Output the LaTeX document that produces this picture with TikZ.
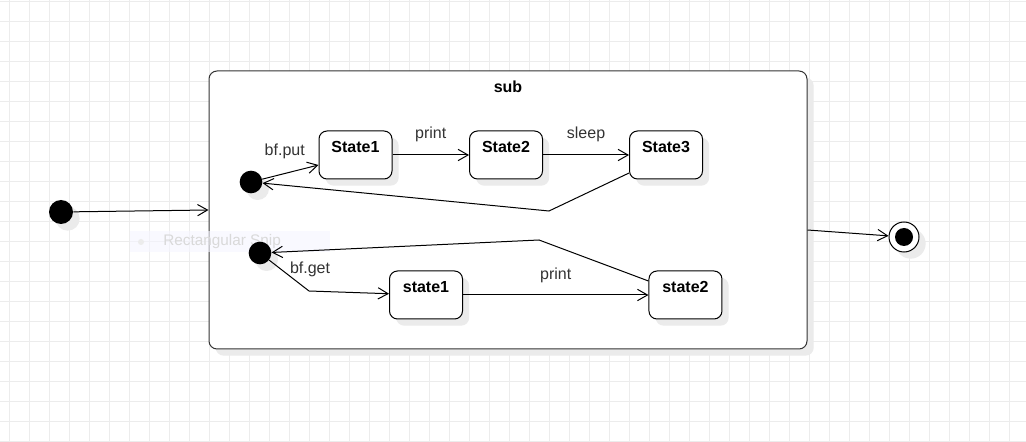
\documentclass[tikz,border=0pt]{standalone}
\usepackage{fontspec}
\setmainfont{Liberation Sans}
\usetikzlibrary{shapes, arrows.meta, positioning, shadows}
\tikzstyle{every node}=[font=\fontsize{12}{14}\selectfont]
\tikzstyle{gridline}=[draw=gray!15,line width=.6pt]
\tikzstyle{shade}=[drop shadow={shadow xshift=5pt,shadow yshift=-5pt,fill=black!8,opacity=1}]
\tikzstyle{container}=[draw=black!80,rectangle,rounded corners=6pt,fill=white,
  line width=.75pt,minimum width=448.5pt,inner sep=0pt,text height=16.3pt,
  text depth=192.2pt,font=\fontsize{12}{14}\selectfont\bfseries,shade]
\tikzstyle{state}=[draw,rectangle,rounded corners=6pt,fill=white,line width=.75pt,
  minimum width=54.75pt,inner sep=0pt,text height=16.3pt,text depth=19.7pt,
  font=\fontsize{12}{14}\selectfont\bfseries,shade]
\tikzstyle{initial}=[circle,fill=black,minimum size=18pt,inner sep=0pt,shade]
\tikzstyle{final}=[circle,draw,fill=white,line width=.75pt,minimum size=22.5pt,
  inner sep=0pt,shade,path picture={\fill[black] (path picture bounding box.center) circle (6.75pt);}]
\tikzstyle{trans}=[draw,line width=.75pt,-{Straight Barb[length=7.5pt,width=8.5pt]}]
\tikzstyle{lbl}=[text=black!80]

\begin{document}
\begin{tikzpicture}[x=.75pt,y=-.75pt]
  \useasboundingbox (0,0) rectangle (1026,442);
  \fill[white] (0,0) rectangle (1026,442);
  % background grid
  \foreach \gx in {9,29,...,1009} \draw[gridline] (\gx,0) -- (\gx,442);
  \foreach \gy in {1,21,...,441} \draw[gridline] (0,\gy) -- (1026,\gy);

  \node[container] (sub) at (508,210) {sub};
  \node[state] (State1) at (355.5,155) {State1};
  \node[state, right of=State1, node distance=112.9pt] (State2) {State2};
  \node[state, right of=State2, node distance=120pt] (State3) {State3};
  \node[state] (state1) at (426,295) {state1};
  \node[state, right of=state1, node distance=194.6pt] (state2) {state2};

  % faint snipping tooltip
  \node[rectangle,fill=blue!4,fill opacity=.6,minimum width=150pt,minimum height=15.75pt,
    inner sep=0pt] (snip) at (230,241.5) {};
  \fill[gray!15] (141,242) circle (3);
  \node[text=gray!30,font=\fontsize{11.5}{13}\selectfont,anchor=west,inner sep=0pt]
    (sniptext) at (163,241.5) {Rectangular Snip};

  \node[initial] (init) at (61,212) {};
  \node[initial, minimum size=17pt] (put) at (251,182) {};
  \node[initial, minimum size=17pt] (get) at (260,253) {};
  \node[final] (fin) at (904,237) {};

  \draw[trans] (init) -- (sub.west);
  \draw[trans] ([yshift=-15pt]sub.east) -- (fin);
  \draw[trans] (put) -- node[lbl, pos=.4, above=7pt] {bf.put} ([yshift=-7.5pt]State1.west);
  \draw[trans] (State1) -- node[lbl, above=6pt] {print} (State2);
  \draw[trans] (State2) -- node[lbl, above=6pt] {sleep} (State3);
  \draw[trans] ([yshift=-13.5pt]State3.west) -- (549,211) -- (put);
  \draw[trans] (get) -- node[lbl, pos=.3, right=3pt] {bf.get} (309,291) -- (state1);
  \draw[trans] (state1) -- node[lbl, above=5.5pt] {print} (state2);
  \draw[trans] ([yshift=10.5pt]state2.west) -- (539,240) -- (get);
\end{tikzpicture}
\end{document}
